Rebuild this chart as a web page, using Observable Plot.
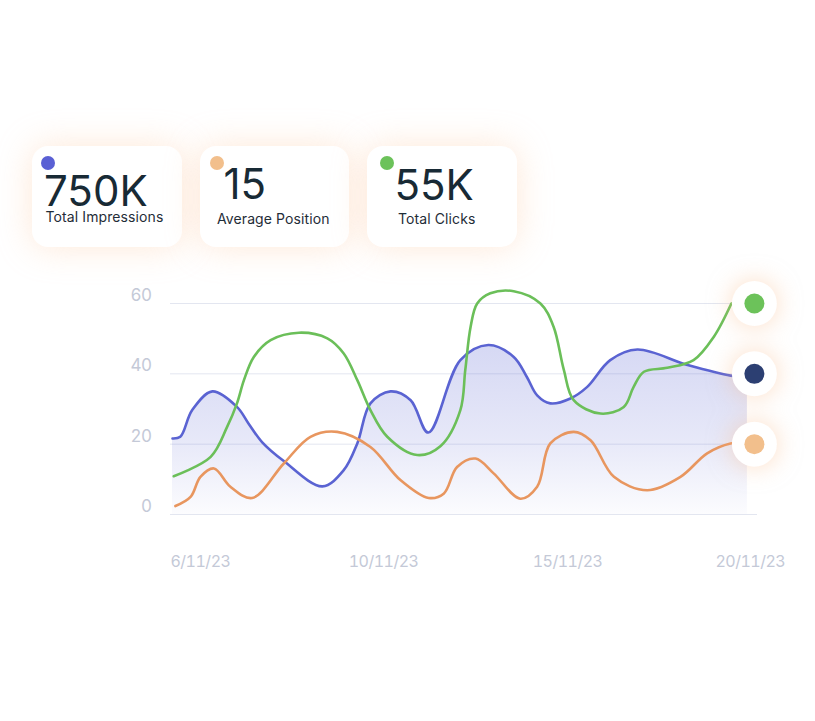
<!DOCTYPE html>
<html><head><meta charset="utf-8">
<script src="https://cdn.jsdelivr.net/npm/d3@7"></script>
<script src="https://cdn.jsdelivr.net/npm/@observablehq/plot@0.6"></script>
<style>
html,body{margin:0;padding:0;background:#fff;}
#wrap{position:relative;width:815px;height:721px;overflow:hidden;font-family:Inter,"Noto Sans",sans-serif;}
#chart{position:absolute;left:0;top:0;}
#chart svg text{letter-spacing:-0.5px;}
.card{position:absolute;background:#fff;border-radius:16px;box-shadow:0 0 34px rgba(252,200,160,0.42);}
.card .dot{position:absolute;width:14px;height:14px;border-radius:50%;}
.card .num{position:absolute;font-size:42px;line-height:40px;color:#182a35;white-space:nowrap;}
.card .lab{position:absolute;font-size:14px;line-height:14px;letter-spacing:0.1px;color:#1f2d38;white-space:nowrap;}
</style></head>
<body><div id="wrap"><div id="chart"></div></div>
<script>
// ---- data ----
const cardValues = ["750K", "15", "55K"];
const cardLabels = ["Total Impressions", "Average Position", "Total Clicks"];
const cardColors = ["#5a60d4", "#f2bf8c", "#6cc25a"];

const xTickPos = [0.68, 5.14, 9.62, 14.07];
const xTickLabels = ["6/11/23", "10/11/23", "15/11/23", "20/11/23"];
const yTicks = [0, 20, 40, 60];

// Total Impressions (blue)
const impT = [0, 0.19, 0.48, 0.97, 1.57, 1.85, 2.18, 2.71, 3.65, 4.17, 4.50, 4.82, 5.31, 5.80, 6.23, 7.01, 7.69, 8.31, 8.63, 8.88, 9.20, 9.69, 10.10, 10.66, 11.32, 12.54, 13.59, 14];
const impV = [21.6, 22.1, 29.7, 35.0, 30.6, 25.9, 20.6, 15.2, 8.0, 12.6, 20.2, 31.6, 35.0, 32.5, 23.3, 43.9, 48.2, 44.8, 39.1, 33.9, 31.6, 33.0, 36.3, 43.9, 46.9, 42.5, 39.5, 39.2];

// Total Clicks (green)
const clkT = [0.03, 0.93, 1.33, 1.57, 1.74, 1.98, 2.39, 3.08, 3.77, 4.17, 4.50, 4.82, 5.23, 5.96, 6.53, 7.01, 7.13, 7.26, 7.42, 7.74, 8.31, 8.96, 9.28, 9.53, 9.77, 10.42, 10.99, 11.23, 11.48, 12.05, 12.69, 13.18, 13.61];
const clkV = [10.9, 16.4, 24.9, 31.6, 38.2, 44.8, 49.6, 51.7, 50.1, 45.8, 38.2, 29.7, 22.1, 16.9, 19.5, 29.7, 41.1, 53.4, 60.0, 62.9, 63.5, 60.0, 53.4, 41.1, 32.5, 28.7, 30.6, 36.3, 40.6, 41.7, 43.9, 50.5, 60.0];

// Average Position (orange)
const posT = [0.07, 0.44, 0.68, 1.01, 1.41, 1.94, 2.71, 3.36, 4.01, 4.82, 5.55, 6.24, 6.61, 6.93, 7.38, 7.82, 8.47, 8.88, 9.20, 9.77, 10.18, 10.75, 11.56, 12.37, 13.02, 13.59, 14];
const posV = [2.4, 5.0, 10.7, 13.1, 7.9, 4.7, 14.5, 22.1, 23.5, 19.2, 9.8, 4.7, 6.0, 13.5, 15.9, 11.7, 4.5, 7.9, 20.2, 23.5, 21.1, 10.7, 6.9, 10.7, 17.4, 20.2, 20.4];

// end markers
const endNames = ["Total Clicks", "Total Impressions", "Average Position"];
const endLevels = [60, 40, 20];
const endColors = ["#6cc25a", "#2c3f72", "#f2bf8c"];
const endT = 14;

// ---- layout (styles only) ----
const cardBoxes = [
  {left: 32, top: 146, w: 150, h: 101, dot: [9, 9.5], num: [12, 24.7], lab: [13.5, 64.3]},
  {left: 200, top: 146, w: 149, h: 101, dot: [9.7, 9.7], num: [23.5, 17.7], lab: [17, 66.3]},
  {left: 367, top: 146, w: 150, h: 101, dot: [12.7, 10.3], num: [27.5, 18.7], lab: [31, 66.3]}
];

const wrap = document.getElementById("wrap");
cardValues.forEach((val, i) => {
  const b = cardBoxes[i];
  const c = document.createElement("div");
  c.className = "card";
  Object.assign(c.style, {left: b.left + "px", top: b.top + "px", width: b.w + "px", height: b.h + "px"});
  const d = document.createElement("div");
  d.className = "dot";
  Object.assign(d.style, {left: b.dot[0] + "px", top: b.dot[1] + "px", background: cardColors[i]});
  const n = document.createElement("div");
  n.className = "num"; n.textContent = val;
  Object.assign(n.style, {left: b.num[0] + "px", top: b.num[1] + "px"});
  const l = document.createElement("div");
  l.className = "lab"; l.textContent = cardLabels[i];
  Object.assign(l.style, {left: b.lab[0] + "px", top: b.lab[1] + "px"});
  c.append(d, n, l);
  wrap.appendChild(c);
});

const rows = (t, v) => t.map((d, i) => ({t: d, v: v[i]}));
const imp = rows(impT, impV);
const clk = rows(clkT, clkV);
const pos = rows(posT, posV);
const ends = endNames.map((s, i) => ({s, t: endT, v: endLevels[i], c: endColors[i]}));
const tickLabelOf = new Map(xTickPos.map((p, i) => [p, xTickLabels[i]]));

const defs = () => {
  const ns = "http://www.w3.org/2000/svg";
  const g = document.createElementNS(ns, "defs");
  const lg = document.createElementNS(ns, "linearGradient");
  lg.setAttribute("id", "impFill");
  lg.setAttribute("x1", "0"); lg.setAttribute("y1", "0");
  lg.setAttribute("x2", "0"); lg.setAttribute("y2", "1");
  [[0, 0.25], [0.55, 0.15], [1, 0.02]].forEach(([o, a]) => {
    const s = document.createElementNS(ns, "stop");
    s.setAttribute("offset", o);
    s.setAttribute("stop-color", "rgb(90,100,210)");
    s.setAttribute("stop-opacity", a);
    lg.appendChild(s);
  });
  g.appendChild(lg);
  return g;
};

const curve = "catmull-rom";
const chart = Plot.plot({
  width: 815, height: 721,
  marginLeft: 172, marginRight: 64, marginTop: 303, marginBottom: 207,
  x: {domain: [0, 14.1], label: null},
  y: {domain: [0, 60], label: null},
  color: {type: "identity"},
  style: {fontFamily: "Inter, sans-serif", color: "#c4c9d7", background: "transparent", overflow: "visible"},
  marks: [
    defs,
    Plot.gridY({ticks: yTicks, stroke: "#e3e6f0", strokeOpacity: 1, strokeWidth: 1, insetLeft: -2, insetRight: -6}),
    Plot.areaY(imp, {x: "t", y: "v", curve, fill: "url(#impFill)"}),
    Plot.line(imp, {x: "t", y: "v", curve, stroke: "#5a63d2", strokeWidth: 2.6}),
    Plot.line(clk, {x: "t", y: "v", curve, stroke: "#6bbf59", strokeWidth: 2.6}),
    Plot.line(pos, {x: "t", y: "v", curve, stroke: "#e8965f", strokeWidth: 2.6}),
    Plot.axisY({ticks: yTicks, tickSize: 0, tickPadding: 21, fontSize: 17, dy: -8, label: null}),
    Plot.axisX({ticks: xTickPos, tickSize: 0, tickPadding: 41, fontSize: 16, label: null, tickFormat: d => tickLabelOf.get(d)}),
    Plot.dot(ends, {x: "t", y: "v", r: 22.5, fill: "#fff", dx: 7}),
    Plot.dot(ends, {x: "t", y: "v", r: 10, fill: "c", dx: 7})
  ]
});
const dotGroups = chart.querySelectorAll('g[aria-label="dot"]');
if (dotGroups.length) dotGroups[0].style.filter = "drop-shadow(0 0 12px rgba(250,185,135,0.5))";
document.getElementById("chart").appendChild(chart);
</script>
</body></html>
